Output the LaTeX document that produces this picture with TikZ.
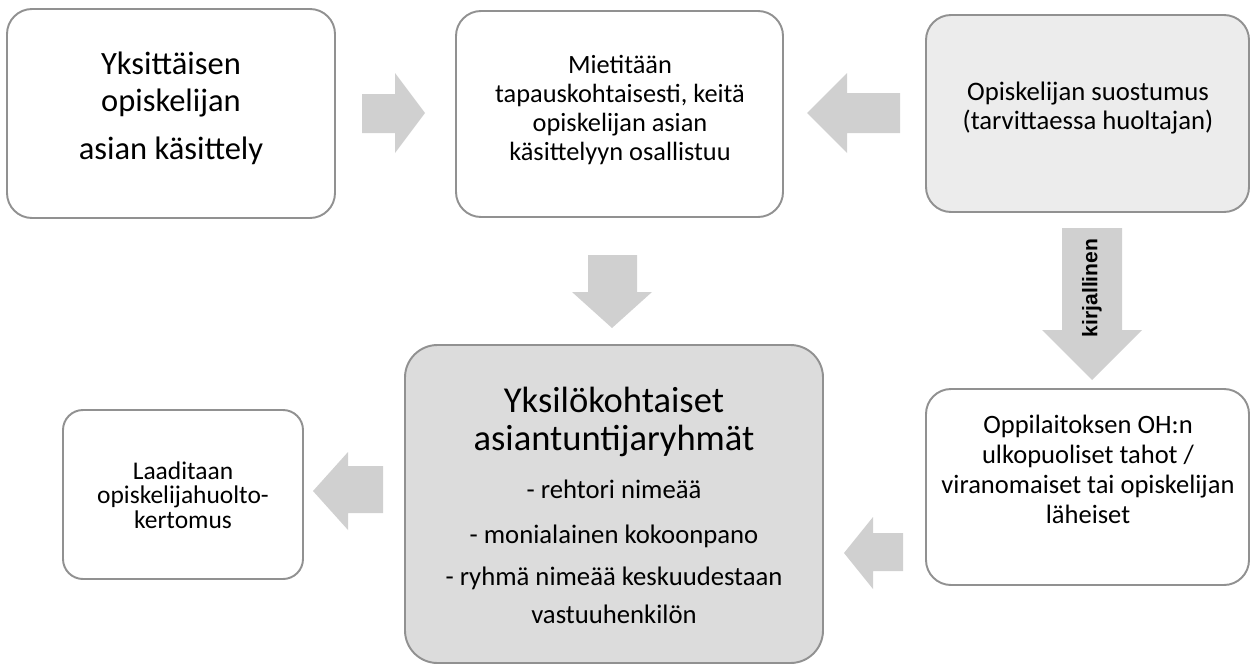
\documentclass[tikz,border=0pt]{standalone}
\usepackage{fontspec}
\setmainfont{Carlito}
\newfontfamily\lsans{Liberation Sans}
\usetikzlibrary{fit}
\definecolor{bordergray}{RGB}{145,145,145}
\definecolor{arrowgray}{RGB}{208,208,208}
\definecolor{fillD}{RGB}{220,220,220}
\definecolor{fillC}{RGB}{236,236,236}
\tikzset{
  box/.style={draw=bordergray, line width=1.1pt, rounded corners=0.5cm, inner sep=0pt, fill=white},
  txt/.style={anchor=north, align=flush center, inner sep=0pt},
  blockarrow/.style={fill=arrowgray, draw=none},
}
\begin{document}
\lineskiplimit=-20pt\relax
\begin{tikzpicture}[x=0.02cm,y=-0.02cm]
\useasboundingbox (0,0) rectangle (1251,666);
% boxes
\node[box, fit={(7,9)(335,218)}] (A) {};
\node[box, fit={(456,11)(783,217)}] (B) {};
\node[box, fill=fillC, fit={(926,15)(1249,212)}] (C) {};
\node[box, fill=fillD, rounded corners=0.65cm, fit={(405,345)(823,663)}] (D) {};
\node[box, rounded corners=0.4cm, fit={(63,410)(303,579)}] (E) {};
\node[box, fit={(926,389)(1249,585)}] (F) {};
% texts
\node[txt, text width=6cm, font=\fontsize{18.5}{21}\selectfont] (tA) at (171,52)
  {Yksittäisen\\opiskelijan\\[6.3pt]asian käsittely};
\node[txt, text width=6.2cm, font=\fontsize{15}{16.5}\selectfont] (tB) at (620,55)
  {Mietitään\\tapauskohtaisesti, keitä\\opiskelijan asian\\käsittelyyn osallistuu};
\node[txt, text width=6.2cm, font=\fontsize{15.2}{16}\selectfont] (tC) at (1088,82)
  {Opiskelijan suostumus\\(tarvittaessa huoltajan)};
\node[txt, text width=8cm, font=\fontsize{20.8}{21.6}\selectfont] (tD) at (614,387)
  {Yksilökohtaiset\\asiantuntijaryhmät\\[9.1pt]\fontsize{15.2}{18.2}\selectfont - rehtori nimeää\\[7.4pt]- monialainen kokoonpano\\[5.7pt]- ryhmä nimeää keskuudestaan\\vastuuhenkilön};
\node[txt, text width=4.6cm, font=\fontsize{14.5}{14.2}\selectfont] (tE) at (183,461)
  {Laaditaan\\opiskelijahuolto-\\kertomus};
\node[txt, text width=6.2cm, font=\fontsize{15.1}{17}\selectfont] (tF) at (1088,415)
  {Oppilaitoksen OH:n\\ulkopuoliset tahot /\\viranomaiset tai opiskelijan\\läheiset};
% block arrows
\fill[blockarrow] (362,94) -- (395,94) -- (395,73) -- (425,113) -- (395,153) -- (395,133) -- (362,133) -- cycle;
\fill[blockarrow] (900,93) -- (847,93) -- (847,73) -- (807,113) -- (847,153) -- (847,133) -- (900,133) -- cycle;
\fill[blockarrow] (588,255) -- (637,255) -- (637,292) -- (652,292) -- (612,328) -- (572,292) -- (588,292) -- cycle;
\fill[blockarrow] (1062,228) -- (1122,228) -- (1122,330) -- (1142,330) -- (1092,380) -- (1042,330) -- (1062,330) -- cycle;
\fill[blockarrow] (903,533) -- (873,533) -- (873,517) -- (844,553) -- (873,589) -- (873,571) -- (903,571) -- cycle;
\fill[blockarrow] (383,466) -- (348,466) -- (348,452) -- (313,491) -- (348,530) -- (348,513) -- (383,513) -- cycle;
\node[rotate=90, inner sep=0pt, font=\lsans\bfseries\fontsize{12}{14}\selectfont] (kir) at (1092,288) {kirjallinen};
\end{tikzpicture}
\end{document}
